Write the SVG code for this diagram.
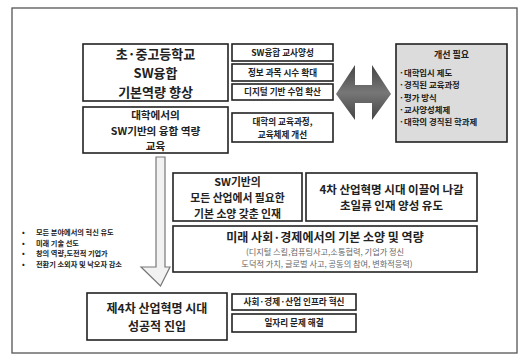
<svg xmlns="http://www.w3.org/2000/svg" width="527" height="359" viewBox="0 0 527 359">
<style>
text{font-family:"Noto Sans CJK KR","Noto Sans",sans-serif;fill:#222;text-anchor:middle}
.b{stroke:#222;stroke-width:1.6;fill:#fff}
.h1{font-size:13px;font-weight:bold}
.h2{font-size:10.6px;font-weight:bold}
.h3{font-size:10.8px;font-weight:bold}
.h4{font-size:11.5px;font-weight:bold}
.h5{font-size:12px;font-weight:bold}
.s{font-size:8.6px;font-weight:bold}
.g{font-size:8.2px;fill:#666}
.l{font-size:8.4px;font-weight:bold;text-anchor:start}
.m{font-size:7.2px;font-weight:bold;text-anchor:start}
</style>
<defs>
<linearGradient id="ga" x1="0" y1="0" x2="0" y2="1">
<stop offset="0" stop-color="#444"/><stop offset="0.5" stop-color="#777"/><stop offset="1" stop-color="#444"/>
</linearGradient>
</defs>
<rect x="0" y="0" width="527" height="359" fill="#fff"/>
<rect id="frame" x="12" y="8" width="505" height="345" fill="#fff" stroke="#555" stroke-width="1.3"/>

<g id="connectors">
<path d="M336,94 L355,65 L355,85 L372,85 L372,65 L391,94 L372,120 L372,103 L355,103 L355,120 Z" fill="url(#ga)"/>
<path d="M156,157 L165,157 L165,267 L170,267 L160.5,286 L141,267 L156,267 Z" fill="#f2f2f2" stroke="#777" stroke-width="1.2"/>
</g>

<g id="n1"><rect class="b" x="83" y="44" width="145" height="57"/>
<text class="h1" x="155.5" y="59.4">초·중고등학교</text>
<text class="h1" x="155.5" y="78.2">SW융합</text>
<text class="h1" x="155.5" y="97">기본역량 향상</text></g>

<g id="n2"><rect class="b" x="83" y="107" width="145" height="46"/>
<text class="h2" x="155.5" y="119.4">대학에서의</text>
<text class="h2" x="155.5" y="134.8">SW기반의 융합 역량</text>
<text class="h2" x="155.5" y="150.1">교육</text></g>

<g id="n3"><rect class="b" x="232" y="44" width="101" height="17"/><text class="s" x="282.5" y="55.5">SW융합 교사양성</text></g>
<g id="n4"><rect class="b" x="232" y="64" width="101" height="17"/><text class="s" x="282.5" y="75.5">정보 과목 시수 확대</text></g>
<g id="n5"><rect class="b" x="232" y="84" width="101" height="16"/><text class="s" x="282.5" y="95">디지털 기반 수업 확산</text></g>
<g id="n6"><rect class="b" x="232" y="113" width="101" height="29"/>
<text class="s" x="282.5" y="125">대학의 교육과정,</text>
<text class="s" x="282.5" y="137.6">교육체제 개선</text></g>

<g id="n7"><rect x="396" y="44" width="111" height="98" fill="#dcdcdc" stroke="#222" stroke-width="1.6"/>
<text class="s" x="451.5" y="58" style="font-size:9px">개선 필요</text>
<text class="l" x="399" y="76">·대학입시 제도</text>
<text class="l" x="399" y="88.3">·경직된 교육과정</text>
<text class="l" x="399" y="100.6">·평가 방식</text>
<text class="l" x="399" y="112.9">·교사양성체제</text>
<text class="l" x="399" y="125.2">·대학의 경직된 학과제</text></g>

<g id="n8"><rect class="b" x="173" y="173" width="129" height="48"/>
<text class="h3" x="237.5" y="186.1">SW기반의</text>
<text class="h3" x="237.5" y="201.8">모든 산업에서 필요한</text>
<text class="h3" x="237.5" y="217.5">기본 소양 갖춘 인재</text></g>

<g id="n9"><rect class="b" x="306" y="173" width="171" height="48"/>
<text class="h4" x="391.5" y="193.6">4차 산업혁명 시대 이끌어 나갈</text>
<text class="h4" x="391.5" y="210.4">초일류 인재 양성 유도</text></g>

<g id="n10"><rect class="b" x="173" y="226" width="304" height="46"/>
<text class="h5" x="325" y="242">미래 사회·경제에서의 기본 소양 및 역량</text>
<text class="g" x="325" y="255">(디지털 스킬,컴퓨팅사고,소통협력, 기업가 정신</text>
<text class="g" x="327" y="267">도덕적 가치, 글로벌 사고, 공동의 참여, 변화적응력)</text></g>

<g id="n11">
<text class="m" x="22" y="235">•</text><text class="m" x="36" y="235">모든 분야에서의 혁신 유도</text>
<text class="m" x="22" y="245.5">•</text><text class="m" x="36" y="245.5">미래 기술 선도</text>
<text class="m" x="22" y="256">•</text><text class="m" x="36" y="256">창의 역량,도전적 기업가</text>
<text class="m" x="22" y="266.5">•</text><text class="m" x="36" y="266.5">전환기 소외자 및 낙오자 감소</text></g>

<g id="n12"><rect class="b" x="87" y="293" width="140" height="47"/>
<text class="h5" x="157" y="313">제4차 산업혁명 시대</text>
<text class="h5" x="157" y="330.5">성공적 진입</text></g>

<g id="n13"><rect class="b" x="232" y="294" width="124" height="16"/><text class="s" x="294" y="305">사회·경제·산업 인프라 혁신</text></g>
<g id="n14"><rect class="b" x="232" y="314" width="124" height="18"/><text class="s" x="294" y="326">일자리 문제 해결</text></g>
</svg>
